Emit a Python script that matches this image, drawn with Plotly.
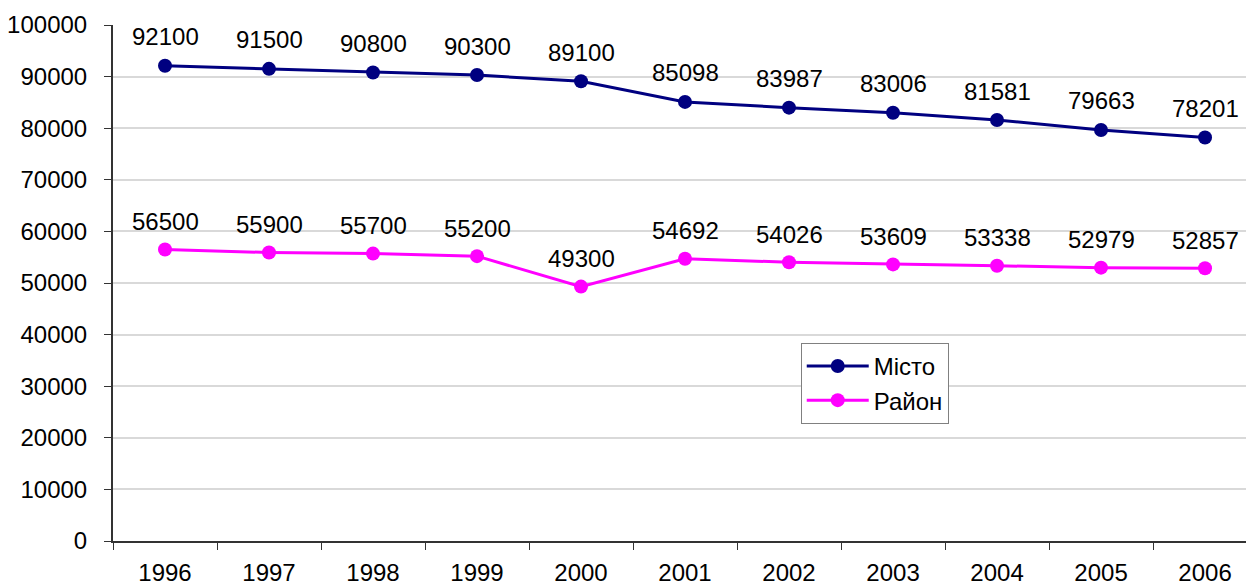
import plotly.graph_objects as go

years = ["1996", "1997", "1998", "1999", "2000", "2001", "2002", "2003", "2004", "2005", "2006"]
misto = [92100, 91500, 90800, 90300, 89100, 85098, 83987, 83006, 81581, 79663, 78201]
raion = [56500, 55900, 55700, 55200, 49300, 54692, 54026, 53609, 53338, 52979, 52857]
y_ticks = [0, 10000, 20000, 30000, 40000, 50000, 60000, 70000, 80000, 90000, 100000]

FONT = "Liberation Sans, Arial, sans-serif"
FS = 24
NAVY = "#000080"
MAGENTA = "#FF00FF"

fig = go.Figure()
fig.add_trace(go.Scatter(
    x=years, y=misto, name="Місто", mode="lines+markers",
    line=dict(color=NAVY, width=3), marker=dict(color=NAVY, size=14),
    cliponaxis=False,
))
fig.add_trace(go.Scatter(
    x=years, y=raion, name="Район", mode="lines+markers",
    line=dict(color=MAGENTA, width=3), marker=dict(color=MAGENTA, size=14),
    cliponaxis=False,
))

for series, shift in ((misto, 29), (raion, 28)):
    for i, v in enumerate(series):
        fig.add_annotation(x=i, y=v, xref="x", yref="y", text=str(v), showarrow=False,
                           yshift=shift, font=dict(size=FS, color="black", family=FONT))

fig.update_layout(
    width=1246, height=588,
    margin=dict(l=113, r=0, t=25, b=47),
    paper_bgcolor="white", plot_bgcolor="white",
    font=dict(family=FONT, size=FS, color="black"),
    showlegend=True,
    legend=dict(
        x=0.607, y=0.384, xanchor="left", yanchor="top",
        bordercolor="#808080", borderwidth=1, bgcolor="white",
        font=dict(size=FS, family=FONT), tracegroupgap=2, itemwidth=62,
    ),
)
fig.update_xaxes(
    type="category", range=[-0.5, 10.394], automargin=False,
    showgrid=False, showline=True, linecolor="#333333", linewidth=2,
    ticks="outside", tickson="boundaries", ticklen=7, tickcolor="#333333",
    ticklabelstandoff=9, tickfont=dict(size=FS, family=FONT),
)
fig.update_yaxes(
    range=[0, 100000], tickvals=y_ticks, ticktext=[str(t) for t in y_ticks],
    automargin=False,
    showgrid=True, gridcolor="#d9d9d9", gridwidth=1.5,
    showline=True, linecolor="#333333", linewidth=2,
    ticks="outside", ticklen=7, tickcolor="#333333",
    ticklabelstandoff=12, tickfont=dict(size=FS, family=FONT),
    zeroline=False,
)

fig.write_html(
    "out.html",
    config={"displayModeBar": False},
    post_script="document.body.style.margin='0';document.body.style.overflow='hidden';",
)
